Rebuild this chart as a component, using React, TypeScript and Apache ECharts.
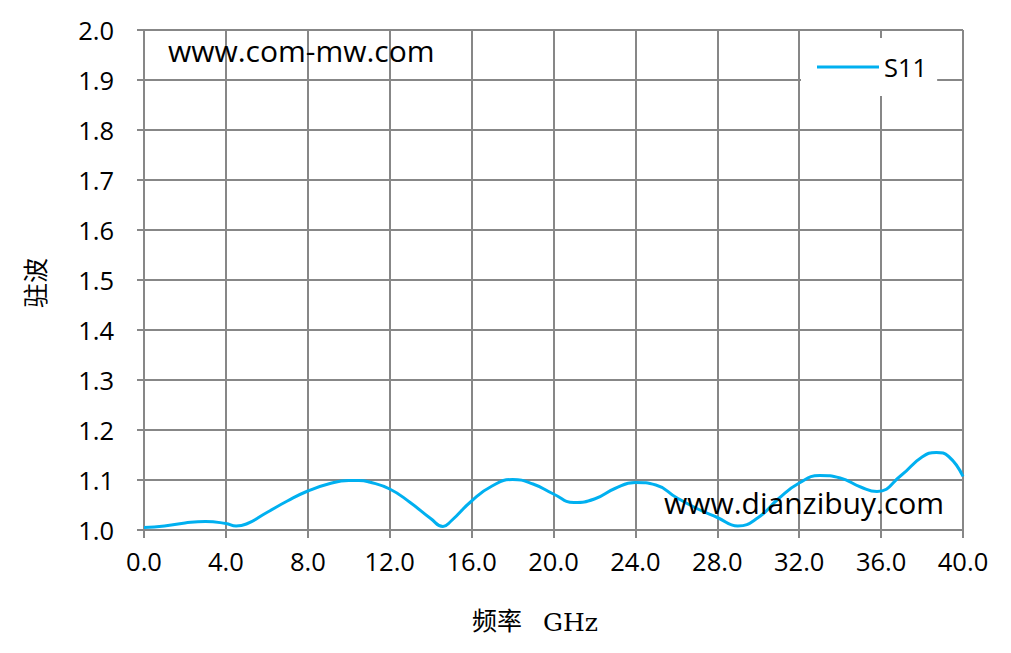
import React, { useEffect, useRef } from "react";
import * as echarts from "echarts";

const freq = [0, 1, 2, 3, 4, 4.5, 5, 6, 7, 8, 9, 10, 10.5, 11, 12, 13, 14, 14.6, 15, 16, 17, 18, 19, 20, 21, 22, 23, 24, 25, 26, 27, 28, 29, 30, 31, 32, 33, 34, 35, 35.8, 37, 38, 38.7, 39.3, 40];
const s11 = [1.005, 1.008, 1.014, 1.017, 1.013, 1.008, 1.012, 1.035, 1.058, 1.078, 1.092, 1.099, 1.099, 1.096, 1.082, 1.055, 1.023, 1.007, 1.018, 1.058, 1.088, 1.101, 1.092, 1.072, 1.055, 1.062, 1.083, 1.095, 1.09, 1.065, 1.043, 1.025, 1.008, 1.025, 1.063, 1.094, 1.109, 1.104, 1.086, 1.077, 1.11, 1.146, 1.155, 1.147, 1.107];

const seriesName = "S11";
const xTitleCn = "频率";
const xTitleUnit = "GHz";
const yTitle = "驻波";
const watermark1 = "www.com-mw.com";
const watermark2 = "www.dianzibuy.com";

const LINE = "#00b0f0";
const GRID = "#878787";
const SANS = "'Open Sans', 'Noto Sans', sans-serif";
const SERIF = "'Liberation Serif', 'Noto Sans CJK SC', serif";

export default function App() {
  const ref = useRef<HTMLDivElement>(null);
  useEffect(() => {
    if (!ref.current) return;
    const chart = echarts.init(ref.current, null, { renderer: "svg" });
    chart.setOption({
      animation: false,
      backgroundColor: "#fff",
      grid: { left: 144, right: 48, top: 30, bottom: 123, containLabel: false },
      xAxis: {
        type: "value",
        min: 0,
        max: 40,
        interval: 4,
        axisLine: { show: true, onZero: false, lineStyle: { color: GRID, width: 2 } },
        axisTick: { show: true, inside: false, length: 8, lineStyle: { color: GRID, width: 2 } },
        splitLine: { show: true, lineStyle: { color: GRID, width: 2 } },
        axisLabel: {
          margin: 18,
          color: "#000",
          fontSize: 25.5,
          fontFamily: SANS,
          formatter: (v: number) => v.toFixed(1),
        },
      },
      yAxis: {
        type: "value",
        min: 1.0,
        max: 2.0,
        interval: 0.1,
        axisLine: { show: true, lineStyle: { color: GRID, width: 2 } },
        axisTick: { show: true, inside: false, length: 7, lineStyle: { color: GRID, width: 2 } },
        splitLine: { show: true, lineStyle: { color: GRID, width: 2 } },
        axisLabel: {
          margin: 30,
          color: "#000",
          fontSize: 25.5,
          fontFamily: SANS,
          formatter: (v: number) => v.toFixed(1),
        },
      },
      legend: {
        show: true,
        left: 801,
        top: 38,
        orient: "horizontal",
        backgroundColor: "#fff",
        padding: [16, 10, 16, 16],
        itemWidth: 62,
        itemHeight: 3,
        itemGap: 5,
        data: [{ name: seriesName, icon: "rect" }],
        textStyle: { color: "#000", fontSize: 25.5, fontFamily: SANS, padding: [0, 0, 0, 0] },
      },
      graphic: [
        {
          type: "text",
          left: 168,
          top: 35,
          style: { text: watermark1, fontSize: 30, fontFamily: SANS, fill: "#000" },
          z: 100,
        },
        {
          type: "text",
          left: 664,
          top: 487,
          style: { text: watermark2, fontSize: 30, fontFamily: SANS, fill: "#000" },
          z: 100,
        },
        {
          type: "text",
          left: 472,
          top: 609,
          style: { text: xTitleCn, fontSize: 25, fontFamily: SERIF, fill: "#000" },
        },
        {
          type: "text",
          left: 543,
          top: 610,
          style: { text: xTitleUnit, fontSize: 25, fontFamily: "'DejaVu Serif', serif", fill: "#000" },
        },
        {
          type: "text",
          x: 36,
          y: 283,
          rotation: Math.PI / 2,
          style: {
            text: yTitle,
            fontSize: 25,
            fontFamily: SERIF,
            fill: "#000",
            align: "center",
            verticalAlign: "middle",
          },
        },
      ],
      series: [
        {
          name: seriesName,
          type: "line",
          data: freq.map((f, i) => [f, s11[i]]),
          smooth: 0.5,
          showSymbol: false,
          symbol: "none",
          lineStyle: { color: LINE, width: 3 },
          itemStyle: { color: LINE },
          z: 5,
        },
      ],
    });
    return () => chart.dispose();
  }, []);
  return <div ref={ref} style={{ width: 1011, height: 653, margin: -8 }} />;
}
